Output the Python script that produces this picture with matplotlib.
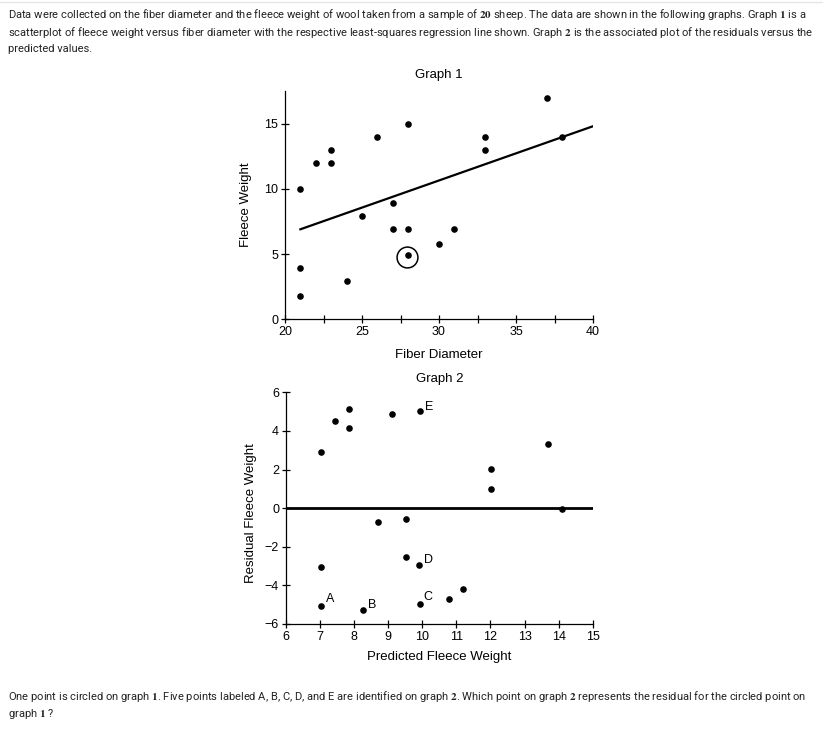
import numpy as np
import matplotlib.pyplot as plt

# Graph 1 data: fiber diameter vs fleece weight
diameter = [21, 21, 21, 22, 23, 23, 24, 25, 26, 27, 27, 28, 28, 28, 30, 31, 33, 33, 37, 38]
weight = [10, 3.9, 1.8, 12, 13, 12, 2.9, 7.9, 14, 8.9, 6.9, 15, 6.9, 4.9, 5.8, 6.9, 14, 13, 17, 14]
line_x = [21, 40]
line_y = [6.9, 14.8]
circled = (27.9, 4.8)

# Graph 2 data: predicted vs residual
predicted = [7.02, 7.44, 7.85, 7.85, 9.11, 9.93, 13.70, 12.02, 12.02, 14.10,
             8.69, 9.53, 9.53, 9.91, 7.02, 7.02, 8.26, 9.93, 10.78, 11.19]
residual = [2.93, 4.53, 5.14, 4.14, 4.90, 5.05, 3.34, 2.01, 1.00, -0.04,
            -0.72, -0.56, -2.54, -2.96, -3.04, -5.05, -5.29, -4.94, -4.73, -4.17]
labels = {'A': (7.02, -5.05), 'B': (8.26, -5.29), 'C': (9.93, -4.94),
          'D': (9.91, -2.96), 'E': (9.93, 5.05)}
label_offsets = {'A': (6.5, 5), 'B': (6.5, 4), 'C': (5.5, 5),
                 'D': (6.5, 3.5), 'E': (6.5, 2.5)}

plt.rcParams['font.family'] = ['Liberation Sans', 'DejaVu Sans']
plt.rcParams['mathtext.fontset'] = 'stix'

W, H = 823, 735
fig = plt.figure(figsize=(W / 100, H / 100), dpi=100)


def fx(px):
    return px / W


def fy(py):
    return 1 - py / H


# header / footer text
txt = dict(family=['Roboto', 'DejaVu Sans'], fontsize=8.05, color='#222222', va='center', ha='left')
fig.text(fx(8), fy(14), r'Data were collected on the fiber diameter and the fleece weight of wool taken from a sample of $\mathbf{20}$ sheep. The data are shown in the following graphs. Graph $\mathbf{1}$ is a', **txt)
fig.text(fx(8), fy(32), r'scatterplot of fleece weight versus fiber diameter with the respective least-squares regression line shown. Graph $\mathbf{2}$ is the associated plot of the residuals versus the', **txt)
fig.text(fx(8), fy(49), 'predicted values.', **txt)
fig.text(fx(8), fy(696), r'One point is circled on graph $\mathbf{1}$. Five points labeled A, B, C, D, and E are identified on graph $\mathbf{2}$. Which point on graph $\mathbf{2}$ represents the residual for the circled point on', **txt)
fig.text(fx(8), fy(714), r'graph $\mathbf{1}$ ?', **txt)
fig.add_artist(plt.Line2D([0, 1], [fy(1.5), fy(1.5)], color='#e6e6e6', lw=1))

# Graph 1
ax1 = fig.add_axes([fx(285), fy(319.3), fx(593 - 285), (319.3 - 91) / H])
ax1.scatter(diameter, weight, s=14, color='black', zorder=3, clip_on=False)
ax1.plot(line_x, line_y, color='black', lw=1.6)
ax1.plot(*circled, marker='o', markersize=15, markerfacecolor='none',
         markeredgecolor='black', markeredgewidth=1.1)
ax1.set_xlim(20, 40)
ax1.set_ylim(0, 17.5)
ax1.set_xticks([20, 25, 30, 35, 40])
ax1.set_xticks([22.5, 27.5, 32.5, 37.5], minor=True)
ax1.set_yticks([0, 5, 10, 15])
ax1.set_xlabel('Fiber Diameter', fontsize=9.5)
ax1.set_ylabel('Fleece Weight', fontsize=9.5)
ax1.xaxis.set_label_coords(0.5, -0.156)
ax1.yaxis.set_label_coords(-0.127, 0.5)
ax1.xaxis.label.set_va('center')
ax1.yaxis.label.set_va('center')
fig.text(fx(439), fy(75), 'Graph 1', fontsize=9.5, ha='center', va='center')

# Graph 2
ax2 = fig.add_axes([fx(286), fy(624), fx(592.7 - 286), (624 - 392.3) / H])
ax2.scatter(predicted, residual, s=14, color='black', zorder=3, clip_on=False)
ax2.axhline(0, color='black', lw=2)
for name, (px, py) in labels.items():
    ax2.annotate(name, (px, py), xytext=label_offsets[name], textcoords='offset points',
                 ha='center', va='center', fontsize=9)
ax2.set_xlim(6, 15)
ax2.set_ylim(-6, 6)
ax2.set_xticks(np.arange(6, 16))
ax2.set_yticks(np.arange(-6, 7, 2))
ax2.set_yticklabels(['\u22126', '\u22124', '\u22122', '0', '2', '4', '6'])
ax2.set_xlabel('Predicted Fleece Weight', fontsize=9.5)
ax2.set_ylabel('Residual Fleece Weight', fontsize=9.5)
ax2.xaxis.set_label_coords(0.5, -0.142)
ax2.yaxis.set_label_coords(-0.115, 0.48)
ax2.xaxis.label.set_va('center')
ax2.yaxis.label.set_va('center')
fig.text(fx(440), fy(379), 'Graph 2', fontsize=9.5, ha='center', va='center')

for ax in (ax1, ax2):
    ax.spines['top'].set_visible(False)
    ax.spines['right'].set_visible(False)
    for s in ('left', 'bottom'):
        ax.spines[s].set_linewidth(0.9)
    ax.tick_params(which='both', direction='inout', length=6, width=0.9,
                   labelsize=9, pad=2)

fig.savefig('out.png', dpi=100)
